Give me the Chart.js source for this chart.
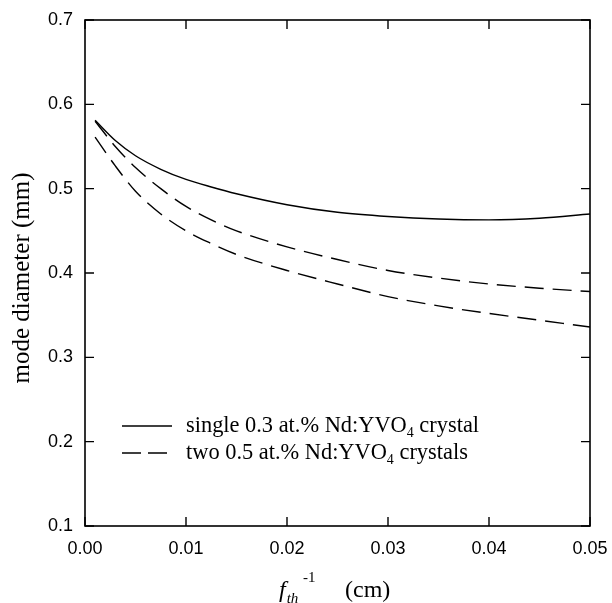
<!DOCTYPE html>
<html>
<head>
<meta charset="utf-8">
<script src="https://cdn.jsdelivr.net/npm/chart.js@4/dist/chart.umd.min.js"></script>
<style>
html,body{margin:0;padding:0;background:#fff;}
#wrap{width:612px;height:603px;position:relative;}
</style>
</head>
<body>
<div id="wrap"><canvas id="c" width="612" height="603"></canvas></div>
<script>
// ---- data ----
const xValues = [0.001, 0.003, 0.005, 0.0075, 0.01, 0.0125, 0.015, 0.02, 0.025, 0.03, 0.035, 0.04, 0.045, 0.05];
const singleCrystal = [0.581, 0.557, 0.539, 0.523, 0.511, 0.502, 0.494, 0.481, 0.472, 0.467, 0.464, 0.463, 0.465, 0.470];
const twoCrystalsA  = [0.580, 0.550, 0.525, 0.500, 0.479, 0.463, 0.450, 0.431, 0.416, 0.403, 0.394, 0.387, 0.382, 0.378];
const twoCrystalsB  = [0.561, 0.527, 0.497, 0.470, 0.450, 0.435, 0.422, 0.403, 0.387, 0.372, 0.361, 0.352, 0.344, 0.336];
const seriesNames = ["single 0.3 at.% Nd:YVO", "two 0.5 at.% Nd:YVO"];
const seriesSubs = ["4", "4"];
const seriesTails = [" crystal", " crystals"];
const xTicks = [0, 0.01, 0.02, 0.03, 0.04, 0.05];
const yTicks = [0.1, 0.2, 0.3, 0.4, 0.5, 0.6, 0.7];
const yTitle = "mode diameter (mm)";

const pts = arr => xValues.map((x, i) => ({x: x, y: arr[i]}));
const DASH = [19, 9];

const framePlugin = {
  id: 'frame',
  afterDraw(chart) {
    const ctx = chart.ctx, a = chart.chartArea;
    const xs = chart.scales.x, ys = chart.scales.y;
    ctx.save();
    ctx.strokeStyle = '#000';
    ctx.lineWidth = 1.6;
    ctx.strokeRect(a.left, a.top, a.right - a.left, a.bottom - a.top);
    ctx.lineWidth = 1.4;
    const L = 9;
    ctx.beginPath();
    xTicks.forEach(v => {
      const px = xs.getPixelForValue(v);
      ctx.moveTo(px, a.bottom); ctx.lineTo(px, a.bottom - L);
      ctx.moveTo(px, a.top); ctx.lineTo(px, a.top + L);
    });
    yTicks.forEach(v => {
      const py = ys.getPixelForValue(v);
      ctx.moveTo(a.left, py); ctx.lineTo(a.left + L, py);
      ctx.moveTo(a.right, py); ctx.lineTo(a.right - L, py);
    });
    ctx.stroke();

    // legend
    const lx0 = 122, lx1 = 172, tx = 186;
    const rows = [426, 453];
    rows.forEach((ry, i) => {
      ctx.beginPath();
      ctx.lineWidth = 1.4;
      ctx.setLineDash(i === 0 ? [] : [19, 7]);
      ctx.moveTo(lx0, ry); ctx.lineTo(lx1, ry);
      ctx.stroke();
      ctx.setLineDash([]);
      ctx.fillStyle = '#000';
      ctx.textBaseline = 'middle';
      ctx.textAlign = 'left';
      ctx.font = '22.4px "Liberation Serif"';
      let x = tx;
      ctx.fillText(seriesNames[i], x, ry);
      x += ctx.measureText(seriesNames[i]).width;
      ctx.font = '14px "Liberation Serif"';
      ctx.fillText(seriesSubs[i], x, ry + 7);
      x += ctx.measureText(seriesSubs[i]).width;
      ctx.font = '22.4px "Liberation Serif"';
      ctx.fillText(seriesTails[i], x, ry);
    });

    // x-axis title: f_th^-1 (cm)
    ctx.textBaseline = 'alphabetic';
    let x = 279, by = 597;
    ctx.font = 'italic 24px "Liberation Serif"';
    ctx.fillText('f', x, by);
    x += ctx.measureText('f').width + 1;
    ctx.font = 'italic 15px "Liberation Serif"';
    ctx.fillText('th', x, by + 6);
    ctx.font = '15px "Liberation Serif"';
    ctx.fillText('-1', 303, by - 15);
    ctx.font = '24px "Liberation Serif"';
    ctx.fillText('(cm)', 345, by);

    // y-axis title
    ctx.save();
    ctx.translate(22, 278);
    ctx.rotate(-Math.PI / 2);
    ctx.textAlign = 'center';
    ctx.textBaseline = 'middle';
    ctx.font = '25px "Liberation Serif"';
    ctx.fillText(yTitle, 0, 0);
    ctx.restore();
    ctx.restore();
  }
};

new Chart(document.getElementById('c'), {
  type: 'line',
  data: {
    datasets: [
      {label: seriesNames[0] + seriesSubs[0] + seriesTails[0], data: pts(singleCrystal), borderColor: '#000', borderWidth: 1.4, pointRadius: 0, cubicInterpolationMode: 'monotone', fill: false},
      {label: seriesNames[1] + seriesSubs[1] + seriesTails[1], data: pts(twoCrystalsA), borderColor: '#000', borderWidth: 1.4, borderDash: DASH, pointRadius: 0, cubicInterpolationMode: 'monotone', fill: false},
      {label: seriesNames[1] + seriesSubs[1] + seriesTails[1] + ' ', data: pts(twoCrystalsB), borderColor: '#000', borderWidth: 1.4, borderDash: DASH, pointRadius: 0, cubicInterpolationMode: 'monotone', fill: false}
    ]
  },
  options: {
    responsive: false,
    animation: false,
    devicePixelRatio: 1,
    layout: {padding: {top: 20, right: 22, bottom: 0, left: 0}},
    plugins: {legend: {display: false}, tooltip: {enabled: false}},
    scales: {
      x: {
        type: 'linear', min: 0, max: 0.05,
        afterBuildTicks: s => { s.ticks = xTicks.map(v => ({value: v})); },
        afterFit: s => { s.height = 77; s.paddingLeft = 0; s.paddingRight = 0; },
        grid: {display: false, drawTicks: false},
        border: {display: false},
        ticks: {color: '#000', padding: 12, maxRotation: 0, font: {family: 'Liberation Sans', size: 18}, callback: v => Number(v).toFixed(2)}
      },
      y: {
        type: 'linear', min: 0.1, max: 0.7,
        afterBuildTicks: s => { s.ticks = yTicks.map(v => ({value: v})); },
        afterFit: s => { s.width = 85; s.paddingTop = 0; s.paddingBottom = 0; },
        grid: {display: false, drawTicks: false},
        border: {display: false},
        ticks: {color: '#000', padding: 12, font: {family: 'Liberation Sans', size: 18}, callback: v => Number(v).toFixed(1)}
      }
    }
  },
  plugins: [framePlugin]
});
</script>
</body>
</html>
